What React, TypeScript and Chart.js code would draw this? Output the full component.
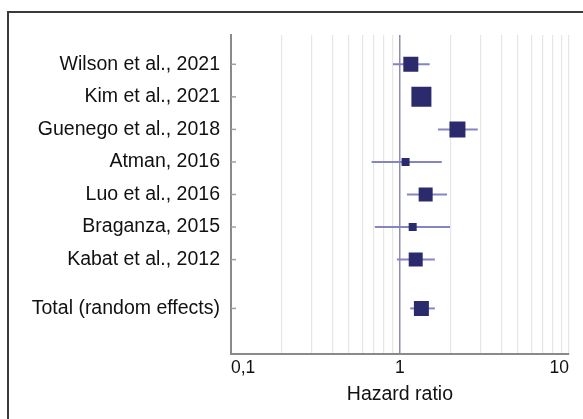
import React, { useEffect, useRef } from 'react';
import { Chart, registerables } from 'chart.js';

Chart.register(...registerables);

// ---- Data ----
const studies = [
  'Wilson et al., 2021',
  'Kim et al., 2021',
  'Guenego et al., 2018',
  'Atman, 2016',
  'Luo et al., 2016',
  'Braganza, 2015',
  'Kabat et al., 2012',
  'Total (random effects)',
];
const rowPositions = [0, 1, 2, 3, 4, 5, 6, 7.5];
const hazardRatios = [1.16, 1.34, 2.19, 1.08, 1.42, 1.19, 1.24, 1.34];
const ciLower = [0.91, 1.25, 1.68, 0.68, 1.1, 0.71, 0.96, 1.15];
const ciUpper = [1.5, 1.44, 2.89, 1.77, 1.9, 1.98, 1.61, 1.61];
const studyWeights = [15, 20, 16, 8, 14, 8, 14, 15];
const xTickValues = [0.1, 0.2, 0.3, 0.4, 0.5, 0.6, 0.7, 0.8, 0.9, 1, 2, 3, 4, 5, 6, 7, 8, 9, 10];
const xTickLabels: Record<string, string> = { '0.1': '0,1', '1': '1', '10': '10' };
const xAxisTitle = 'Hazard ratio';

const FONT = "'Liberation Sans', Arial, sans-serif";

const forestPlugin = {
  id: 'forestExtras',
  beforeDatasetsDraw(chart: any) {
    const { ctx, scales } = chart;
    const x = scales.x;
    const y = scales.y;
    ctx.save();
    ctx.strokeStyle = '#8585c2';
    ctx.lineWidth = 2;
    for (let i = 0; i < hazardRatios.length; i++) {
      const py = y.getPixelForValue(rowPositions[i]);
      ctx.beginPath();
      ctx.moveTo(x.getPixelForValue(ciLower[i]), py);
      ctx.lineTo(x.getPixelForValue(ciUpper[i]), py);
      ctx.stroke();
    }
    ctx.strokeStyle = '#a0a0a0';
    ctx.lineWidth = 1.5;
    for (let i = 0; i < rowPositions.length; i++) {
      const py = y.getPixelForValue(rowPositions[i]);
      ctx.beginPath();
      ctx.moveTo(x.left, py);
      ctx.lineTo(x.left + 5, py);
      ctx.stroke();
    }
    ctx.restore();
  },
};

export default function App() {
  const ref = useRef<HTMLCanvasElement>(null);
  useEffect(() => {
    if (!ref.current) return;
    const chart = new Chart(ref.current, {
      type: 'scatter',
      data: {
        datasets: [
          {
            data: hazardRatios.map((v, i) => ({ x: v, y: rowPositions[i] })),
            pointStyle: 'rect',
            pointRadius: studyWeights.map((w) => w / Math.SQRT2),
            backgroundColor: '#2b2a6c',
            borderColor: '#2b2a6c',
            borderWidth: 0,
          },
        ],
      },
      options: {
        responsive: false,
        animation: false,
        layout: { padding: { top: 35, right: 14, left: 0, bottom: 12.6 } },
        plugins: { legend: { display: false }, tooltip: { enabled: false } },
        scales: {
          x: {
            type: 'logarithmic',
            min: 0.1,
            max: 10,
            afterBuildTicks: (s: any) => {
              s.ticks = xTickValues.map((v) => ({ value: v }));
            },
            ticks: {
              autoSkip: false,
              maxRotation: 0,
              align: 'inner',
              padding: 4,
              color: '#111',
              font: { size: 17.5, family: FONT },
              callback: (v: any) => xTickLabels[String(v)] ?? '',
            },
            grid: {
              drawTicks: false,
              color: (c: any) => (c.tick && c.tick.value === 1 ? '#8c8cae' : '#e6e6e6'),
              lineWidth: (c: any) => (c.tick && c.tick.value === 1 ? 1.5 : 1.2),
            },
            border: { color: '#8a8a8a', width: 2 },
            title: {
              display: true,
              text: xAxisTitle,
              color: '#111',
              font: { size: 19.5, family: FONT },
              padding: { top: 0, bottom: 0 },
            },
          },
          y: {
            type: 'linear',
            reverse: true,
            min: -0.9,
            max: 8.9,
            afterBuildTicks: (s: any) => {
              s.ticks = rowPositions.map((v) => ({ value: v }));
            },
            afterFit: (s: any) => {
              s.width = 231;
            },
            ticks: {
              autoSkip: false,
              padding: 11,
              color: '#111',
              font: { size: 19.5, family: FONT },
              callback: (v: any) => {
                const i = rowPositions.indexOf(Number(v));
                return i >= 0 ? studies[i] : '';
              },
            },
            grid: { display: true, drawOnChartArea: false, drawTicks: false },
            border: { color: '#8a8a8a', width: 2 },
          },
        },
      } as any,
      plugins: [forestPlugin],
    });
    return () => chart.destroy();
  }, []);

  return (
    <div style={{ position: 'fixed', left: 0, top: 0, width: 583, height: 419, background: '#fff', overflow: 'hidden' }}>
      <div
        style={{
          position: 'absolute',
          left: 7,
          top: 11,
          width: 600,
          height: 430,
          borderTop: '2px solid #3a3a3a',
          borderLeft: '2px solid #3a3a3a',
        }}
      />
      <canvas ref={ref} width={583} height={419} style={{ position: 'absolute', left: 0, top: 0 }} />
    </div>
  );
}
